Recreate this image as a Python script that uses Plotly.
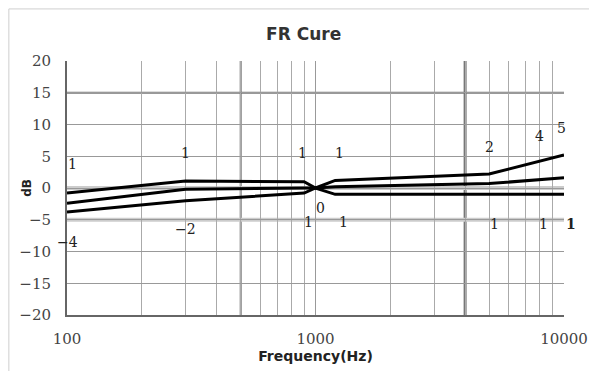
import numpy as np
import plotly.graph_objects as go

# ---- data ----
freq = [100, 300, 900, 1000, 1200, 5000, 10000]
curve_top = [-0.8, 1.1, 1.0, 0.0, 1.2, 2.2, 5.2]
curve_mid = [-2.4, -0.2, 0.0, 0.0, 0.2, 0.7, 1.6]
curve_low = [-3.8, -2.0, -0.8, 0.0, -1.0, -1.0, -1.0]

label_freq = [105, 100, 300, 300, 890, 1245, 1045, 940, 1300, 5000, 8000, 9800, 5250, 8300, 10000]
label_db = [3.8, -8.5, 5.5, -6.5, 5.5, 5.5, -3.2, -5.4, -5.4, 6.5, 8.2, 9.4, -5.7, -5.7, -5.7]
label_text = ["1", "\u22124", "1", "\u22122", "1", "1", "0", "1", "1", "2", "4", "5", "1", "1", "<b>1</b>"]
label_anchor = ["center"] * 14 + ["left"]

x_tickvals = [100, 1000, 10000]
x_ticktext = ["100", "1000", "10000"]
x_minor = [200, 300, 400, 500, 600, 700, 800, 900, 2000, 3000, 4000, 5000, 6000, 7000, 8000, 9000]
y_tickvals = [20, 15, 10, 5, 0, -5, -10, -15, -20]
y_ticktext = ["20", "15", "10", "5", "0", "\u22125", "\u221210", "\u221215", "\u221220"]

fig = go.Figure()
for ys in (curve_top, curve_mid, curve_low):
    fig.add_trace(go.Scatter(x=freq, y=ys, mode="lines",
                             line=dict(color="black", width=3), showlegend=False,
                             hoverinfo="skip"))

serif = "DejaVu Serif"
sans = "DejaVu Sans"
for f, d, t, a in zip(label_freq, label_db, label_text, label_anchor):
    fig.add_annotation(x=np.log10(f), y=d, text=t, showarrow=False, xanchor=a,
                       font=dict(family=serif, size=14, color="#222"))

# y-axis title placed as in the original (close to the tick labels)
fig.add_annotation(xref="paper", yref="paper", x=-0.081, y=0.5, text="<b>dB</b>",
                   textangle=-90, showarrow=False, xanchor="center", yanchor="middle",
                   font=dict(family=sans, size=12, color="#222"))

# extra emphasised grid lines
for xv, col, w in [(500, "#777", 2), (4000, "#777", 3)]:
    fig.add_shape(type="line", xref="x", yref="y", x0=xv, x1=xv, y0=-20, y1=20,
                  line=dict(color=col, width=w), layer="below")
for yv, col, w in [(15, "#777", 2), (0, "#ccc", 4), (-5, "#ccc", 4)]:
    fig.add_shape(type="line", xref="x", yref="y", x0=100, x1=10000, y0=yv, y1=yv,
                  line=dict(color=col, width=w), layer="below")

# outer chart border
fig.add_shape(type="rect", xref="paper", yref="paper", x0=-0.117, x1=1.2,
              y0=-0.3, y1=1.205, line=dict(color="#cfcfcf", width=1))

fig.update_layout(
    width=589, height=363,
    margin=dict(l=59, r=33, t=53, b=56),
    paper_bgcolor="white", plot_bgcolor="white",
    title=dict(text="<b>FR Cure</b>", x=0.502, xanchor="center", y=0.927, yanchor="middle",
               font=dict(family=sans, size=17, color="#333")),
    xaxis=dict(type="log", range=[2, 4], tickvals=x_tickvals, ticktext=x_ticktext,
               automargin=False, ticklabelstandoff=9,
               showgrid=True, gridcolor="#999", gridwidth=1,
               minor=dict(tickvals=x_minor, showgrid=True, gridcolor="#aaa", gridwidth=1, ticks=""),
               showline=True, linecolor="#666", linewidth=2, mirror=False,
               tickfont=dict(family=serif, size=15, color="#444"), ticks="", zeroline=False,
               title=dict(text="<b>Frequency(Hz)</b>", standoff=1,
                          font=dict(family=sans, size=14, color="#222"))),
    yaxis=dict(range=[-20, 20], tickvals=y_tickvals, ticktext=y_ticktext,
               automargin=False, ticklabelstandoff=11,
               showgrid=True, gridcolor="#999", gridwidth=1, zeroline=False,
               showline=True, linecolor="#666", linewidth=2,
               tickfont=dict(family=serif, size=15, color="#444"), ticks=""),
)

fig.write_html("out.html")
